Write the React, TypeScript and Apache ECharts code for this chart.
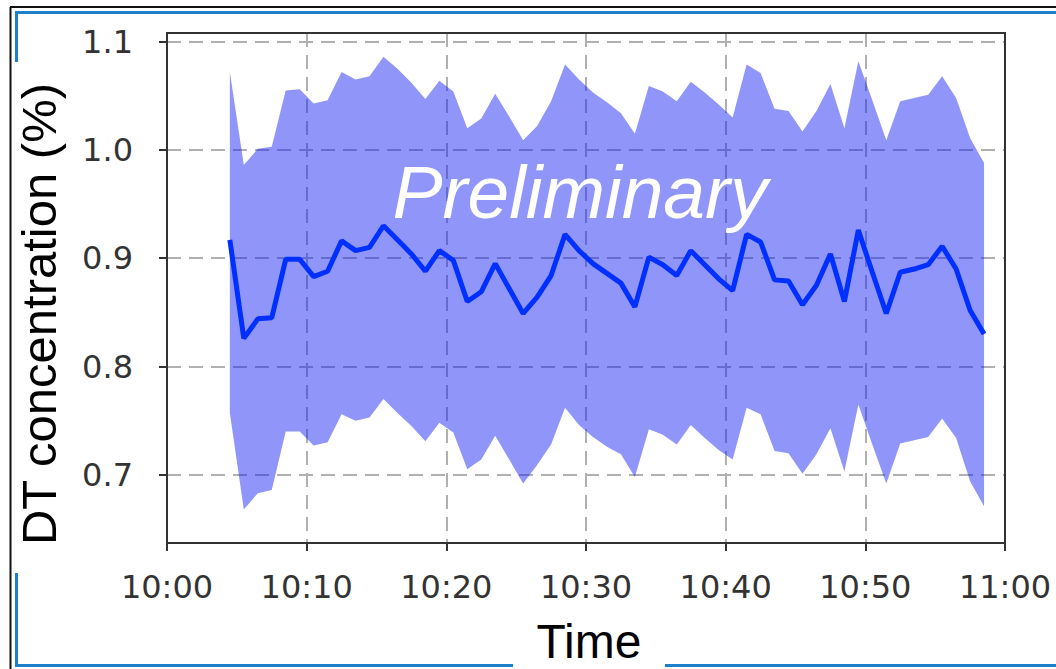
import React, { useEffect, useRef } from "react";
import * as echarts from "echarts";

// minutes after 10:00
const timeMinutes = [
  4.5, 5.5, 6.5, 7.5, 8.5, 9.5, 10.5, 11.5, 12.5, 13.5,
  14.5, 15.5, 16.5, 17.5, 18.5, 19.5, 20.5, 21.5, 22.5, 23.5,
  24.5, 25.5, 26.5, 27.5, 28.5, 29.5, 30.5, 31.5, 32.5, 33.5,
  34.5, 35.5, 36.5, 37.5, 38.5, 39.5, 40.5, 41.5, 42.5, 43.5,
  44.5, 45.5, 46.5, 47.5, 48.5, 49.5, 50.5, 51.5, 52.5, 53.5,
  54.5, 55.5, 56.5, 57.5, 58.5,
];

const meanValues = [
  0.917, 0.826, 0.844, 0.845, 0.899, 0.899, 0.883, 0.888, 0.916, 0.907,
  0.910, 0.930, 0.917, 0.904, 0.888, 0.907, 0.898, 0.860, 0.869, 0.895,
  0.872, 0.849, 0.864, 0.884, 0.922, 0.907, 0.895, 0.886, 0.877, 0.855,
  0.901, 0.894, 0.884, 0.907, 0.894, 0.881, 0.870, 0.922, 0.915, 0.880,
  0.879, 0.857, 0.875, 0.904, 0.860, 0.926, 0.887, 0.849, 0.887, 0.890,
  0.894, 0.911, 0.890, 0.852, 0.830,
];

const upperValues = [
  1.072, 0.986, 1.001, 1.003, 1.055, 1.056, 1.043, 1.046, 1.072, 1.065,
  1.068, 1.086, 1.075, 1.062, 1.047, 1.064, 1.054, 1.020, 1.029, 1.052,
  1.031, 1.009, 1.022, 1.045, 1.079, 1.065, 1.053, 1.044, 1.034, 1.015,
  1.059, 1.054, 1.045, 1.063, 1.053, 1.042, 1.030, 1.079, 1.071, 1.038,
  1.036, 1.017, 1.036, 1.061, 1.020, 1.082, 1.046, 1.009, 1.045, 1.048,
  1.051, 1.068, 1.048, 1.011, 0.988,
];

const lowerValues = [
  0.757, 0.668, 0.683, 0.686, 0.740, 0.740, 0.727, 0.730, 0.756, 0.750,
  0.753, 0.770, 0.757, 0.745, 0.731, 0.748, 0.739, 0.705, 0.714, 0.736,
  0.714, 0.692, 0.709, 0.728, 0.762, 0.746, 0.735, 0.726, 0.719, 0.698,
  0.742, 0.737, 0.728, 0.746, 0.734, 0.723, 0.714, 0.762, 0.756, 0.722,
  0.720, 0.701, 0.719, 0.743, 0.703, 0.765, 0.728, 0.692, 0.729, 0.732,
  0.735, 0.752, 0.734, 0.694, 0.671,
];

const xTickLabels = ["10:00", "10:10", "10:20", "10:30", "10:40", "10:50", "11:00"];

const BLUE_FRAME = "#1a80cc";

export default function App() {
  const ref = useRef<HTMLDivElement>(null);

  useEffect(() => {
    document.body.style.margin = "0";
    const chart = echarts.init(ref.current!, null, { renderer: "svg" });

    const meanData = timeMinutes.map((t, i) => [t, meanValues[i]]);
    const bandRows = timeMinutes.map((t, i) => [t, lowerValues[i], upperValues[i]]);

    const hline = (x1: number, x2: number, y: number, color: string, w: number) => ({
      type: "line",
      z: 100,
      shape: { x1, y1: y, x2, y2: y },
      style: { stroke: color, lineWidth: w },
      silent: true,
    });
    const vline = (x: number, y1: number, y2: number, color: string, w: number) => ({
      type: "line",
      z: 100,
      shape: { x1: x, y1, x2: x, y2 },
      style: { stroke: color, lineWidth: w },
      silent: true,
    });

    const option: any = {
      animation: false,
      backgroundColor: "#ffffff",
      grid: {
        left: 167,
        right: 51,
        top: 33,
        bottom: 126,
        show: true,
        borderColor: "#333333",
        borderWidth: 2,
        backgroundColor: "transparent",
      },
      xAxis: {
        type: "value",
        min: 0,
        max: 60,
        interval: 10,
        axisLine: { show: true, lineStyle: { color: "#333333", width: 2 } },
        axisTick: { show: true, length: 8, lineStyle: { color: "#333333", width: 2 } },
        axisLabel: {
          formatter: (v: number) => xTickLabels[Math.round(v / 10)] ?? "",
          fontFamily: "DejaVu Sans",
          fontSize: 32,
          color: "#333333",
          margin: 28,
        },
        splitLine: {
          show: true,
          showMinLine: false,
          showMaxLine: false,
          lineStyle: { type: [14, 8], color: "#b0b0b0", width: 2 },
        },
      },
      yAxis: {
        type: "value",
        min: 0.637,
        max: 1.108,
        axisLine: { show: true, lineStyle: { color: "#333333", width: 2 } },
        axisTick: { show: true, length: 8, lineStyle: { color: "#333333", width: 2 } },
        axisLabel: {
          formatter: (v: number) => v.toFixed(1),
          fontFamily: "DejaVu Sans",
          fontSize: 32,
          color: "#333333",
          margin: 34,
          showMinLabel: false,
          showMaxLabel: false,
        },
        splitLine: {
          show: true,
          showMinLine: false,
          showMaxLine: false,
          lineStyle: { type: [14, 8], color: "#b0b0b0", width: 2 },
        },
      },
      series: [
        {
          type: "custom",
          silent: true,
          data: bandRows,
          encode: { x: 0, y: [1, 2] },
          z: 2,
          renderItem: (params: any, api: any) => {
            if (params.dataIndex !== 0) return null;
            const top = bandRows.map((r) => api.coord([r[0], r[2]]));
            const bottom = bandRows
              .slice()
              .reverse()
              .map((r) => api.coord([r[0], r[1]]));
            return {
              type: "polygon",
              shape: { points: top.concat(bottom) },
              style: { fill: "rgba(20,30,245,0.47)", stroke: "none" },
            };
          },
        },
        {
          type: "line",
          data: meanData,
          symbol: "none",
          silent: true,
          lineStyle: { color: "#0030ff", width: 5 },
          z: 5,
        },
      ],
      graphic: [
        // plot frame top and right edges
        hline(166, 1006, 33, "#333333", 2),
        vline(1005, 32, 544, "#333333", 2),
        // outer slide frame
        vline(10.5, 7, 669, "#111111", 2),
        hline(10, 1056, 7, "#111111", 2),
        hline(15, 1056, 12.5, BLUE_FRAME, 3),
        vline(16.5, 11, 62, BLUE_FRAME, 3),
        vline(16.5, 573, 667, BLUE_FRAME, 3),
        hline(15, 513, 665.5, BLUE_FRAME, 3),
        hline(665, 1056, 665.5, BLUE_FRAME, 3),
        {
          type: "text",
          z: 100,
          silent: true,
          x: 580,
          y: 192,
          style: {
            text: "Preliminary",
            fill: "#ffffff",
            font: "italic 75px 'Liberation Sans', Arial, sans-serif",
            align: "center",
            verticalAlign: "middle",
          },
        },
        {
          type: "text",
          z: 100,
          silent: true,
          x: 38.5,
          y: 314,
          rotation: Math.PI / 2,
          style: {
            text: "DT concentration (%)",
            fill: "#000000",
            font: "49px 'Liberation Sans', Arial, sans-serif",
            align: "center",
            verticalAlign: "middle",
          },
        },
        {
          type: "text",
          z: 100,
          silent: true,
          x: 589,
          y: 641,
          style: {
            text: "Time",
            fill: "#000000",
            font: "48px 'Liberation Sans', Arial, sans-serif",
            align: "center",
            verticalAlign: "middle",
          },
        },
      ],
    };

    chart.setOption(option);
    return () => chart.dispose();
  }, []);

  return <div ref={ref} style={{ width: 1056, height: 669 }} />;
}
